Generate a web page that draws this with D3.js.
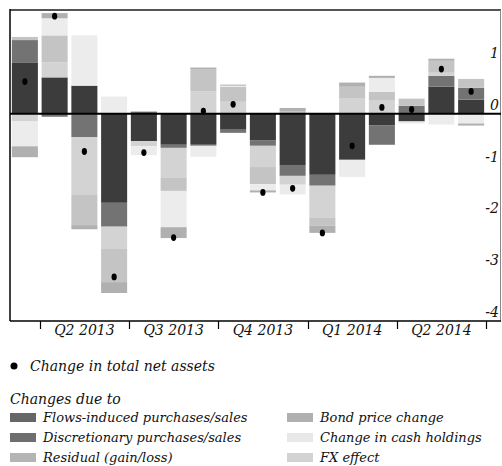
<!DOCTYPE html>
<meta charset="utf-8">
<html>
<head>
  <style type="text/css">
    body{margin:0; background:#fff;}
    text{font-family:"DejaVu Serif", serif; font-style:italic; fill:#111;}
  </style>
</head>
<body>
  <script src="https://cdn.jsdelivr.net/npm/d3@7"></script>
  <script>
    var months = ['2013-03','2013-04','2013-05','2013-06','2013-07','2013-08','2013-09',
                  '2013-10','2013-11','2013-12','2014-01','2014-02','2014-03',
                  '2014-04','2014-05','2014-06'];

    // components, in stacking order
    var flows         = [ 0.99, 0.70, 0.54,-1.72,-0.53,-0.60,-0.60,-0.31,-0.52,-0.99,-1.18,-0.89,-0.23,-0.15, 0.52, 0.27];
    var discretionary = [ 0.43,-0.06,-0.45,-0.46, 0.04,-0.06,-0.02,-0.06,-0.10,-0.21,-0.21, 0.00,-0.37, 0.15, 0.21, 0.23];
    var fx            = [-0.15, 0.29,-1.12,-0.43,-0.10,-0.58, 0.43, 0.23,-0.41,-0.17,-0.62, 0.29, 0.25, 0.00, 0.06, 0.00];
    var residual      = [ 0.06, 0.52,-0.58,-0.64, 0.00,-0.25, 0.43, 0.29,-0.33, 0.05,-0.15, 0.23, 0.17, 0.14, 0.23, 0.17];
    var cash          = [-0.48, 0.33, 0.97, 0.33,-0.17,-0.70,-0.21, 0.02,-0.12,-0.19, 0.00,-0.33, 0.27,-0.04,-0.21,-0.19];
    var bond          = [-0.21, 0.10,-0.08,-0.21, 0.00,-0.21, 0.03, 0.02,-0.04, 0.06,-0.14, 0.08, 0.04, 0.00, 0.04,-0.04];
    var total         = [ 0.62, 1.88,-0.73,-3.15,-0.75,-2.39, 0.05, 0.18,-1.52,-1.44,-2.30,-0.62, 0.12, 0.08, 0.86, 0.43];

    var quarters = [
      {label:'Q2 2013', from:1, to:3},
      {label:'Q3 2013', from:4, to:6},
      {label:'Q4 2013', from:7, to:9},
      {label:'Q1 2014', from:10, to:12},
      {label:'Q2 2014', from:13, to:15}
    ];
    var yTicks = [1, 0, -1, -2, -3, -4];

    // legend swatches in the original are lighter than the bars
    var series = [
      {key:'flows', name:'Flows-induced purchases/sales', values:flows, color:'#3c3c3c', swatch:'#666666'},
      {key:'disc', name:'Discretionary purchases/sales', values:discretionary, color:'#737373', swatch:'#6e6e6e'},
      {key:'fx', name:'FX effect', values:fx, color:'#d3d3d3', swatch:'#d3d3d3'},
      {key:'resid', name:'Residual (gain/loss)', values:residual, color:'#c4c4c4', swatch:'#b4b4b4'},
      {key:'cash', name:'Change in cash holdings', values:cash, color:'#ececec', swatch:'#e8e8e8'},
      {key:'bond', name:'Bond price change', values:bond, color:'#b0b0b0', swatch:'#b0b0b0'}
    ];
    var legendOrder = ['flows','disc','resid','bond','cash','fx'];

    var width = 502,
        height = 466;

    var svg = d3.select('body')
        .append('svg')
        .attr('width', width)
        .attr('height', height);

    // plot frame (note: "top" is taken by window.top)
    var pL = 10, pR = 501, pT = 10, pB = 321;

    var x = d3.scaleBand()
        .domain(months)
        .range([pL, 486])
        .paddingInner(0.125)
        .paddingOuter(0.0625);

    var y = d3.scaleLinear()
        .domain([-4, 2])
        .range([pB, pT]);

    var table = months.map(function(m, i){
      var row = {month:m};
      series.forEach(function(s){ row[s.key] = s.values[i]; });
      return row;
    });

    var stacked = d3.stack()
        .keys(series.map(function(s){return s.key}))
        .offset(d3.stackOffsetDiverging)(table);

    var color = {};
    series.forEach(function(s){ color[s.key] = s.color; });

    svg.append('g')
      .selectAll('g')
      .data(stacked)
      .enter()
      .append('g')
      .attr('fill', function(d){return color[d.key]})
      .selectAll('rect')
      .data(function(d){return d})
      .enter()
      .append('rect')
      .attr('x', function(d){return x(d.data.month)})
      .attr('width', x.bandwidth())
      .attr('y', function(d){return y(Math.max(d[0], d[1]))})
      .attr('height', function(d){return Math.abs(y(d[0]) - y(d[1]))});

    // total net assets dots
    svg.append('g')
      .selectAll('ellipse')
      .data(total)
      .enter()
      .append('ellipse')
      .attr('cx', function(d, i){return x(months[i]) + x.bandwidth()/2})
      .attr('cy', function(d){return y(d)})
      .attr('rx', 2.6)
      .attr('ry', 3.4)
      .attr('fill', '#000');

    // frame
    svg.append('line').attr('x1', pL).attr('x2', pR).attr('y1', pT).attr('y2', pT)
      .attr('stroke', '#555').attr('stroke-width', 2);
    svg.append('line').attr('x1', pR - 0.5).attr('x2', pR - 0.5).attr('y1', pT).attr('y2', pB)
      .attr('stroke', '#888').attr('stroke-width', 1);
    svg.append('line').attr('x1', pL).attr('x2', pL).attr('y1', pT - 1).attr('y2', pB)
      .attr('stroke', '#000').attr('stroke-width', 1.5);
    svg.append('line').attr('x1', pL).attr('x2', pR).attr('y1', pB).attr('y2', pB)
      .attr('stroke', '#000').attr('stroke-width', 1.5);
    svg.append('line').attr('x1', pL).attr('x2', pR).attr('y1', y(0)).attr('y2', y(0))
      .attr('stroke', '#000').attr('stroke-width', 2);

    // y labels, inside the frame on the right
    svg.append('g')
      .selectAll('text')
      .data(yTicks)
      .enter()
      .append('text')
      .attr('x', 499)
      .attr('y', function(d){return y(d) - 4})
      .attr('text-anchor', 'end')
      .style('font-size', '14px')
      .text(function(d){return d});

    // quarter axis
    var gap = (x.step() - x.bandwidth())/2;
    function edgeBefore(i){ return x(months[i]) - gap; }
    function edgeAfter(i){ return x(months[i]) + x.bandwidth() + gap; }

    var ticks = quarters.map(function(q){return edgeBefore(q.from)});
    ticks.push(edgeAfter(quarters[quarters.length-1].to));

    svg.append('g')
      .selectAll('line')
      .data(ticks)
      .enter()
      .append('line')
      .attr('x1', function(d){return Math.round(d) + 0.5})
      .attr('x2', function(d){return Math.round(d) + 0.5})
      .attr('y1', pB)
      .attr('y2', pB + 8)
      .attr('stroke', '#000')
      .attr('stroke-width', 1.2);

    svg.append('g')
      .selectAll('text')
      .data(quarters)
      .enter()
      .append('text')
      .attr('x', function(q){return (edgeBefore(q.from) + edgeAfter(q.to))/2})
      .attr('y', 335)
      .attr('text-anchor', 'middle')
      .style('font-size', '14px')
      .text(function(q){return q.label});

    // legend
    svg.append('circle').attr('cx', 14).attr('cy', 366).attr('r', 3.5).attr('fill', '#000');
    svg.append('text').attr('x', 30).attr('y', 371).style('font-size', '14px')
      .text('Change in total net assets');

    svg.append('text').attr('x', 10).attr('y', 404).style('font-size', '14px')
      .text('Changes due to');

    var items = legendOrder.map(function(k){
      return series.filter(function(s){return s.key == k})[0];
    });

    var legend = svg.append('g')
      .selectAll('g')
      .data(items)
      .enter()
      .append('g')
      .attr('transform', function(d, i){
        return 'translate(' + (i < 3 ? 10 : 287) + ',' + (413 + (i%3)*20) + ')';
      });

    legend.append('rect')
      .attr('width', 26)
      .attr('height', 9)
      .attr('fill', function(d){return d.swatch});

    legend.append('text')
      .attr('x', 33)
      .attr('y', 9)
      .style('font-size', '13px')
      .text(function(d){return d.name});
  </script>
</body>
</html>
